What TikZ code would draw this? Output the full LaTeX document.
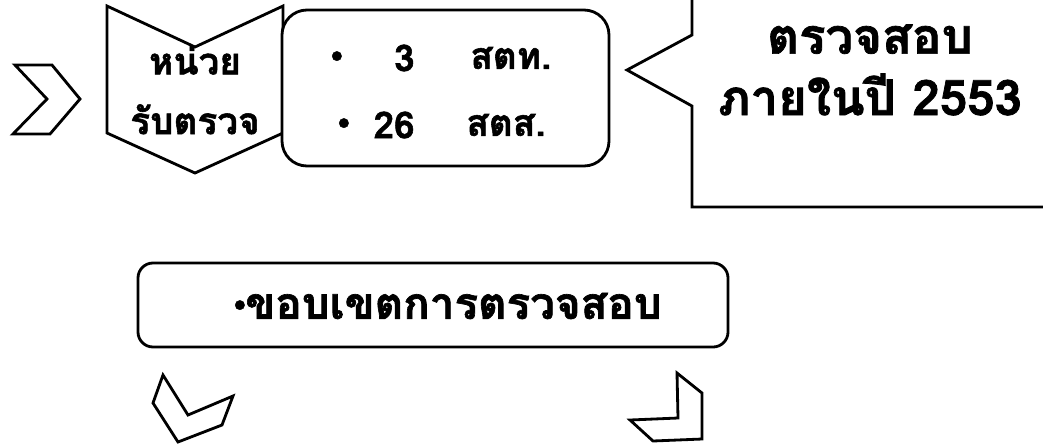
\documentclass[tikz,border=0pt]{standalone}
\usepackage{fontspec}
\newfontfamily\thaifont[Script=Thai, BoldFeatures={FakeBold=1.5}]{Loma}
\usetikzlibrary{positioning}

\begin{document}
\begin{tikzpicture}[
  x=0.02cm, y=-0.02cm,
  outline/.style={draw, line width=1.6pt, line join=miter},
  big/.style={font=\thaifont\bfseries\fontsize{28}{35}\selectfont, align=center, inner sep=0pt},
  small/.style={font=\thaifont\bfseries\fontsize{21}{34}\selectfont, align=center, inner sep=0pt},
  dot/.style={font=\thaifont\bfseries\fontsize{15}{15}\selectfont, inner sep=0pt},
]
  \useasboundingbox (0,0) rectangle (1043,444);
  % Fila 0: flecha, unidad y cantidades
  \draw[outline] (15,65) -- (52,65) -- (80,99) -- (50,134) -- (13,134) -- (47,99) -- cycle;
  \draw[outline] (107,6) -- (195,47) -- (283,6) -- (283,133) -- (195,173) -- (107,133) -- cycle;
  \draw[outline, fill=white, rounded corners=0.5cm] (282,10) rectangle (609,166);
  \node[small] (unit)  at (195,90)  {หน่วย\\รับตรวจ};
  \node[dot] (b1) at (337,58)  {•};
  \node[dot] (b2) at (344,125) {•};
  \node[small, anchor=east] (n1) at (415,58)  {3};
  \node[small, anchor=east] (n2) at (415,125) {26};
  \node[small, anchor=west] (u1) at (470,58)  {สตท.};
  \node[small, anchor=west] (u2) at (466,125) {สตส.};
  % Caja grande con su punta
  \draw[outline] (1053,207) -- (692,207) -- (692,106) -- (627,70) -- (692,35) -- (692,-10);
  \node[big] (year) at (870,70) {ตรวจสอบ\\ภายในปี 2553};
  % Fila 1: alcance
  \draw[outline, rounded corners=0.3cm] (138,263) rectangle (728,347);
  \node[dot] (b3) at (240,307) {•};
  \node[small, font=\thaifont\bfseries\fontsize{25}{30}\selectfont, anchor=west] (scope) at (245,306) {ขอบเขตการตรวจสอบ};
  % Flechas de abajo
  \draw[outline] (163,375) -- (188,415) -- (233,396) -- (222,425) -- (178,442) -- (153,403) -- cycle;
  \draw[outline] (677,373) -- (702,393) -- (702,439) -- (653,441) -- (630,420) -- (678,418) -- cycle;
\end{tikzpicture}
\end{document}
